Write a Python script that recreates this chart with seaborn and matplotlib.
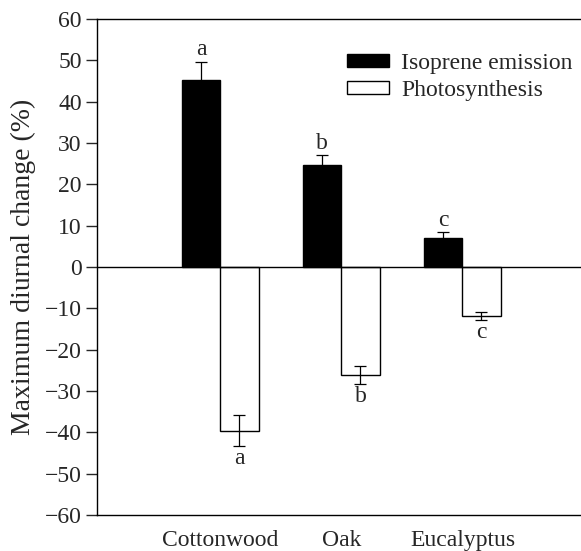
import matplotlib
matplotlib.use("Agg")
import matplotlib.pyplot as plt
import seaborn as sns
import pandas as pd
import numpy as np

species = ["Cottonwood", "Oak", "Eucalyptus"]
measures = ["Isoprene emission", "Photosynthesis"]
isoprene = [45.3, 24.8, 7.1]
isoprene_err = [4.4, 2.3, 1.4]
photo = [-39.6, -26.2, -11.9]
photo_err = [3.7, 2.2, 1.0]
isoprene_letters = ["a", "b", "c"]
photo_letters = ["a", "b", "c"]
yticks = list(range(-60, 61, 10))

sns.set_style("ticks")
plt.rcParams["font.family"] = ["Liberation Serif", "DejaVu Serif"]

df = pd.DataFrame({
    "species": species * 2,
    "measure": [measures[0]] * 3 + [measures[1]] * 3,
    "value": isoprene + photo,
})

fig = plt.figure(figsize=(5.81, 5.51), dpi=100)
ax = fig.add_axes([0.167, 0.0653, 0.833, 0.9002])

sns.barplot(data=df, x="species", y="value", hue="measure", order=species,
            hue_order=measures,
            palette={measures[0]: "black", measures[1]: "white"},
            edgecolor="black", linewidth=1.0, width=0.63, gap=0,
            errorbar=None, ax=ax)

bars = [p for c in ax.containers for p in c if p is not None]

errs = [isoprene_err, photo_err]
letters = [isoprene_letters, photo_letters]
vals = [isoprene, photo]
for ci in range(2):
    for bi in range(3):
        v = vals[ci][bi]
        e = errs[ci][bi]
        bar = min(bars, key=lambda p: abs(p.get_height() - v))
        xc = bar.get_x() + bar.get_width() / 2
        ax.errorbar(xc, v, yerr=e, fmt="none", ecolor="black",
                    elinewidth=0.9, capsize=4, capthick=0.9, zorder=3)
        if v >= 0:
            ax.text(xc, v + e + 0.3, letters[ci][bi], ha="center", va="bottom",
                    fontsize=17)
        else:
            ax.text(xc, v - e - 0.5, letters[ci][bi], ha="center", va="top",
                    fontsize=17)

ax.axhline(0, color="black", lw=1.0, zorder=1)
ax.set_xlim(-1.02, 2.98)
ax.set_ylim(-60, 60)
ax.set_yticks(yticks)
ax.set_yticklabels([str(t).replace("-", "\u2212") for t in yticks])
ax.tick_params(axis="y", direction="out", length=8, width=1, labelsize=17, pad=3)
ax.tick_params(axis="x", length=0, labelsize=17, pad=11)
ax.set_xlabel("")
ax.set_ylabel("Maximum diurnal change (%)", fontsize=20, labelpad=6)
for s in ["left", "top", "bottom"]:
    ax.spines[s].set_visible(True)
    ax.spines[s].set_linewidth(1.0)
    ax.spines[s].set_color("black")
ax.spines["right"].set_visible(False)

leg = ax.legend(loc="upper right", bbox_to_anchor=(1.012, 0.96), frameon=False,
                fontsize=17, handlelength=1.8, handleheight=0.47,
                handletextpad=0.5, labelspacing=0.25, borderaxespad=0.2)
for h in leg.legend_handles:
    h.set_edgecolor("black")

fig.savefig("out.png", dpi=100)
